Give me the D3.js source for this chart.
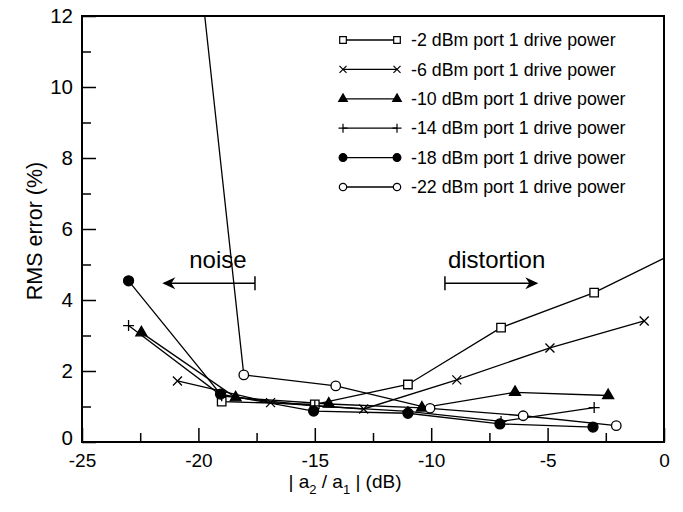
<!DOCTYPE html>
<html>
<head>
<meta charset="utf-8">
<script src="https://cdn.jsdelivr.net/npm/d3@7"></script>
<style>
  body { margin: 0; background: #fff; }
  svg { font-family: "Liberation Sans", Arial, Helvetica, sans-serif; }
</style>
</head>
<body>
<svg width="683" height="512"></svg>
<script>
// data
var seriesNames = ["-2 dBm port 1 drive power", "-6 dBm port 1 drive power",
  "-10 dBm port 1 drive power", "-14 dBm port 1 drive power",
  "-18 dBm port 1 drive power", "-22 dBm port 1 drive power"];
var markers = ["square", "cross", "triangle", "plus", "dot", "ring"];

var x2dBm = [-19, -15, -11, -7, -3, 1];
var y2dBm = [1.14, 1.06, 1.62, 3.22, 4.21, 5.5];
var x6dBm = [-20.9, -16.9, -12.9, -8.9, -4.9, -0.85];
var y6dBm = [1.72, 1.11, 0.93, 1.75, 2.65, 3.41];
var x10dBm = [-22.45, -18.4, -14.4, -10.4, -6.4, -2.4];
var y10dBm = [3.08, 1.25, 1.07, 0.96, 1.4, 1.31];
var x14dBm = [-23, -19, -15, -11, -7, -3];
var y14dBm = [3.28, 1.3, 1.02, 0.86, 0.58, 0.97];
var x18dBm = [-23, -19.05, -15.05, -11, -7.05, -3.05];
var y18dBm = [4.54, 1.35, 0.87, 0.81, 0.51, 0.42];
var x22dBm = [-22, -18.05, -14.1, -10.05, -6.05, -2.05];
var y22dBm = [25.7, 1.89, 1.58, 0.95, 0.74, 0.46];

var xMajor = [-25, -20, -15, -10, -5, 0];
var xMinor = [-22.5, -17.5, -12.5, -7.5, -2.5];
var yMajor = [0, 2, 4, 6, 8, 10, 12];
var yMinor = [1, 3, 5, 7, 9, 11];

var xs = [x2dBm, x6dBm, x10dBm, x14dBm, x18dBm, x22dBm];
var ys = [y2dBm, y6dBm, y10dBm, y14dBm, y18dBm, y22dBm];
var series = seriesNames.map(function(name, i) {
  return { name: name, marker: markers[i],
    points: xs[i].map(function(v, j) { return [v, ys[i][j]]; }) };
});

var svg = d3.select("svg"),
    margin = {top: 16, right: 19, bottom: 70, left: 82},
    width = +svg.attr("width") - (margin.left + margin.right),
    height = +svg.attr("height") - (margin.top + margin.bottom);

var x = d3.scaleLinear().domain([-25, 0]).range([0, width]),
    y = d3.scaleLinear().domain([0, 12]).range([height, 0]);

var g = svg.append("g").attr("transform", "translate(" + margin.left + "," + margin.top + ")");

g.append("clipPath").attr("id", "plot-clip")
  .append("rect").attr("width", width).attr("height", height);

function plain(d) { return String(d); }

// axes, ticks pointing inwards
g.append("g")
    .attr("class", "axis axis-x")
    .attr("transform", "translate(0," + height + ")")
    .call(d3.axisBottom(x).tickValues(xMajor).tickSize(-14).tickPadding(9).tickFormat(plain));
g.append("g")
    .attr("transform", "translate(0," + height + ")")
    .call(d3.axisBottom(x).tickValues(xMinor).tickSize(-9).tickFormat(""));
g.append("g")
    .attr("class", "axis axis-y")
    .call(d3.axisLeft(y).tickValues(yMajor).tickSize(-14).tickPadding(9).tickFormat(plain));
g.append("g")
    .call(d3.axisLeft(y).tickValues(yMinor).tickSize(-9).tickFormat(""));

g.selectAll(".axis text").attr("fill", "#000")
  .attr("font-family", "Liberation Sans, Arial, sans-serif");
g.selectAll(".axis-x text").attr("font-size", 19).attr("dy", "0.85em");
g.selectAll(".axis-y text").attr("font-size", 20.5);
g.selectAll(".axis-y text").filter(function(d) { return d === 0; }).attr("dy", "0.1em");
g.selectAll(".tick line").attr("stroke", "#000").attr("stroke-width", 1.5);
g.selectAll(".domain").remove();

g.append("rect")
  .attr("width", width).attr("height", height)
  .attr("fill", "none").attr("stroke", "#000").attr("stroke-width", 2);

// axis titles
svg.append("text")
  .attr("transform", "translate(42," + (margin.top + height / 2 + 2) + ") rotate(-90)")
  .attr("text-anchor", "middle")
  .attr("font-size", 21.5)
  .text("RMS error (%)");

var xt = svg.append("text")
  .attr("x", 345)
  .attr("y", 488)
  .attr("text-anchor", "middle")
  .attr("font-size", 19);
xt.append("tspan").text("| a");
xt.append("tspan").attr("font-size", 13).attr("dy", 6).text("2");
xt.append("tspan").attr("dy", -6).text(" / a");
xt.append("tspan").attr("font-size", 13).attr("dy", 6).text("1");
xt.append("tspan").attr("dy", -6).text(" | (dB)");

// marker shapes
function markerPath(type, s) {
  if (type === "square") return d3.symbol(d3.symbolSquare, s * s)();
  if (type === "triangle") return d3.symbol(d3.symbolTriangle, s * s * 0.433)();
  if (type === "dot" || type === "ring") return d3.symbol(d3.symbolCircle, s * s * 0.785)();
  var h = s / 2;
  if (type === "cross") return "M" + (-h) + "," + (-h) + "L" + h + "," + h + "M" + (-h) + "," + h + "L" + h + "," + (-h);
  return "M" + (-h - 1) + ",0L" + (h + 1) + ",0M0," + (-h - 1) + "L0," + (h + 1);
}
function markerFill(type) {
  return (type === "triangle" || type === "dot") ? "#000" : "#fff";
}
function markerSize(type) {
  return { square: 8.5, cross: 9, triangle: 11, plus: 9, dot: 10, ring: 9.5 }[type];
}

var plot = g.append("g").attr("clip-path", "url(#plot-clip)");
var line = d3.line().x(function(d) { return x(d[0]); }).y(function(d) { return y(d[1]); });

plot.selectAll(".series-line")
  .data(series)
  .enter().append("path")
  .attr("class", "series-line")
  .attr("d", function(d) { return line(d.points); })
  .attr("fill", "none")
  .attr("stroke", "#000")
  .attr("stroke-width", 1.3);

series.forEach(function(s) {
  plot.selectAll(null)
    .data(s.points)
    .enter().append("path")
    .attr("transform", function(d) { return "translate(" + x(d[0]) + "," + y(d[1]) + ")"; })
    .attr("d", markerPath(s.marker, markerSize(s.marker)))
    .attr("fill", markerFill(s.marker))
    .attr("stroke", "#000")
    .attr("stroke-width", 1.3);
});

// annotations
var ann = g.append("g");
function arrow(x0, x1, yv) {
  var yy = y(yv), a = x(x0), b = x(x1), dir = b > a ? 1 : -1;
  ann.append("line").attr("x1", a).attr("x2", b - dir * 2).attr("y1", yy).attr("y2", yy)
    .attr("stroke", "#000").attr("stroke-width", 1.5);
  ann.append("line").attr("x1", a).attr("x2", a).attr("y1", yy - 7).attr("y2", yy + 7)
    .attr("stroke", "#000").attr("stroke-width", 1.5);
  ann.append("path")
    .attr("d", "M" + b + "," + yy + "L" + (b - dir * 13) + "," + (yy - 6) + "L" + (b - dir * 9) + "," + yy +
      "L" + (b - dir * 13) + "," + (yy + 6) + "Z")
    .attr("fill", "#000");
}
arrow(-17.57, -21.55, 4.47);
arrow(-9.41, -5.4, 4.47);
ann.append("text").attr("x", x(-19.16)).attr("y", y(4.9)).attr("text-anchor", "middle")
  .attr("font-size", 24).text("noise");
ann.append("text").attr("x", x(-7.19)).attr("y", y(4.9)).attr("text-anchor", "middle")
  .attr("font-size", 24).text("distortion");

// legend
var legend = svg.append("g").attr("class", "legend");
var rows = legend.selectAll(".row")
  .data(series)
  .enter().append("g")
  .attr("class", "row")
  .attr("transform", function(d, i) { return "translate(0," + (40 + i * 29.4) + ")"; });
rows.append("line").attr("x1", 343).attr("x2", 397)
  .attr("stroke", "#000").attr("stroke-width", 1.3);
[343, 397].forEach(function(px) {
  rows.append("path")
    .attr("transform", "translate(" + px + ",0)")
    .attr("d", function(d) { return markerPath(d.marker, markerSize(d.marker) * 0.78); })
    .attr("fill", function(d) { return markerFill(d.marker); })
    .attr("stroke", "#000").attr("stroke-width", 1.2);
});
rows.append("text").attr("x", 411).attr("dy", "0.35em")
  .attr("font-size", 17.8).text(function(d) { return d.name; });
</script>
</body>
</html>
